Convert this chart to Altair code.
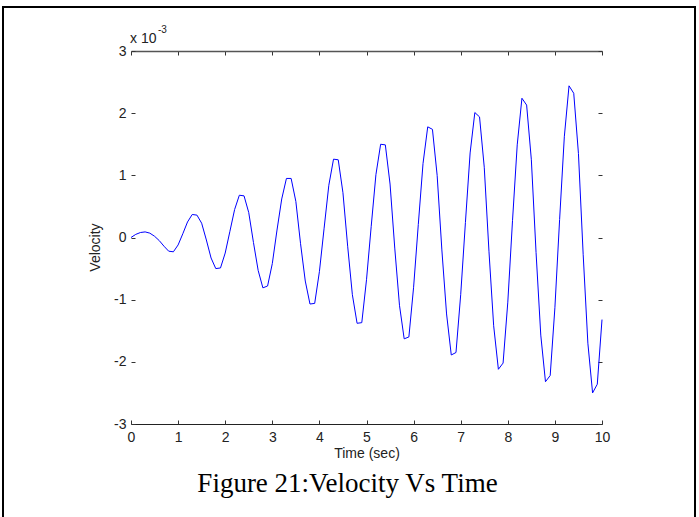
import altair as alt
import pandas as pd

# Time samples (sec)
time_s = [0.0, 0.1, 0.2, 0.3, 0.4, 0.5, 0.6, 0.7, 0.8, 0.9,
          1.0, 1.1, 1.2, 1.3, 1.4, 1.5, 1.6, 1.7, 1.8, 1.9,
          2.0, 2.1, 2.2, 2.3, 2.4, 2.5, 2.6, 2.7, 2.8, 2.9,
          3.0, 3.1, 3.2, 3.3, 3.4, 3.5, 3.6, 3.7, 3.8, 3.9,
          4.0, 4.1, 4.2, 4.3, 4.4, 4.5, 4.6, 4.7, 4.8, 4.9,
          5.0, 5.1, 5.2, 5.3, 5.4, 5.5, 5.6, 5.7, 5.8, 5.9,
          6.0, 6.1, 6.2, 6.3, 6.4, 6.5, 6.6, 6.7, 6.8, 6.9,
          7.0, 7.1, 7.2, 7.3, 7.4, 7.5, 7.6, 7.7, 7.8, 7.9,
          8.0, 8.1, 8.2, 8.3, 8.4, 8.5, 8.6, 8.7, 8.8, 8.9,
          9.0, 9.1, 9.2, 9.3, 9.4, 9.5, 9.6, 9.7, 9.8, 9.9,
          10.0]

# Velocity (x 10^-3)
velocity = [0.00, 0.05, 0.08, 0.09, 0.07, 0.02, -0.05, -0.14, -0.22, -0.23,
            -0.12, 0.06, 0.25, 0.37, 0.36, 0.23, -0.04, -0.33, -0.50, -0.49,
            -0.25, 0.10, 0.45, 0.68, 0.67, 0.40, -0.08, -0.53, -0.81, -0.78,
            -0.42, 0.12, 0.62, 0.95, 0.95, 0.58, -0.10, -0.70, -1.07, -1.06,
            -0.55, 0.15, 0.84, 1.26, 1.25, 0.72, -0.14, -0.92, -1.38, -1.37,
            -0.68, 0.18, 1.01, 1.50, 1.49, 0.86, -0.17, -1.09, -1.63, -1.60,
            -0.80, 0.21, 1.19, 1.78, 1.74, 1.00, -0.20, -1.23, -1.89, -1.85,
            -0.92, 0.24, 1.36, 2.01, 1.94, 1.13, -0.22, -1.42, -2.12, -2.02,
            -1.04, 0.27, 1.49, 2.24, 2.13, 1.25, -0.24, -1.57, -2.32, -2.22,
            -1.13, 0.29, 1.62, 2.44, 2.32, 1.35, -0.27, -1.70, -2.50, -2.36,
            -1.32]

x_ticks = [0, 1, 2, 3, 4, 5, 6, 7, 8, 9, 10]
y_ticks = [-3, -2, -1, 0, 1, 2, 3]

df = pd.DataFrame({"t": time_s, "v": velocity})

W, H = 471, 373
FONT = "Liberation Sans"

xs = alt.Scale(domain=[0, 10], nice=False, zero=False)
ys = alt.Scale(domain=[-3, 3], nice=False, zero=False)

base = alt.Chart(df)

# Main line with labelled axes
main = base.mark_line(color="#0000ff", strokeWidth=1).encode(
    x=alt.X("t:Q", scale=xs, title="Time (sec)",
            axis=alt.Axis(orient="bottom", values=x_ticks, grid=False,
                          ticks=False, domain=True, domainColor="#222222",
                          domainWidth=1, labelFont=FONT, labelFontSize=14,
                          labelColor="#222222", labelPadding=6,
                          labelFlush=False,
                          titleFont=FONT, titleFontSize=14,
                          titleFontWeight="normal", titleColor="#222222",
                          titlePadding=2)),
    y=alt.Y("v:Q", scale=ys, title="Velocity",
            axis=alt.Axis(orient="left", values=y_ticks, grid=False,
                          ticks=False, domain=False, labelFont=FONT,
                          labelFontSize=14, labelColor="#222222",
                          labelPadding=5, labelFlush=False,
                          labelExpr="toString(datum.value)",
                          titleFont=FONT, titleFontSize=14,
                          titleFontWeight="normal", titleColor="#222222",
                          titleX=-36, titleY=196, titleAlign="center",
                          titleBaseline="middle", titleAngle=270)),
)

# inward ticks on top and right
ticks_tr = base.mark_line(strokeOpacity=0).encode(
    x=alt.X("t:Q", scale=xs, title=None,
            axis=alt.Axis(orient="top", offset=-4, values=x_ticks, grid=False,
                          ticks=True, tickSize=4, tickColor="#333333",
                          domain=False, labels=False)),
    y=alt.Y("v:Q", scale=ys, title=None,
            axis=alt.Axis(orient="right", offset=-4, values=y_ticks, grid=False,
                          ticks=True, tickSize=4, tickColor="#333333",
                          domain=False, labels=False)),
)

# inward ticks on bottom and left
ticks_bl = base.mark_line(strokeOpacity=0).encode(
    x=alt.X("t:Q", scale=xs, title=None,
            axis=alt.Axis(orient="bottom", offset=-4, values=x_ticks, grid=False,
                          ticks=True, tickSize=4, tickColor="#333333",
                          domain=False, labels=False)),
    y=alt.Y("v:Q", scale=ys, title=None,
            axis=alt.Axis(orient="left", offset=-4, values=y_ticks, grid=False,
                          ticks=True, tickSize=4, tickColor="#333333",
                          domain=False, labels=False)),
)

# top box line
top_line = base.mark_line(strokeOpacity=0).encode(
    x=alt.X("t:Q", scale=xs, title=None,
            axis=alt.Axis(orient="top", grid=False, ticks=False, labels=False,
                          domain=True, domainColor="#555555", domainWidth=1.5)),
    y=alt.Y("v:Q", scale=ys, axis=None),
)

# exponent label
exp_main = alt.Chart(pd.DataFrame({"s": ["x 10"]})).mark_text(
    font=FONT, fontSize=14, color="#222222", align="left",
    baseline="alphabetic").encode(text="s:N", x=alt.value(-1), y=alt.value(-8))
exp_sup = alt.Chart(pd.DataFrame({"s": ["-3"]})).mark_text(
    font=FONT, fontSize=10, color="#222222", align="left",
    baseline="alphabetic").encode(text="s:N", x=alt.value(27), y=alt.value(-18))

# caption
caption = alt.Chart(pd.DataFrame({"s": ["Figure 21:Velocity Vs Time"]})).mark_text(
    font="Liberation Serif", fontSize=27, color="#000000", align="center",
    baseline="alphabetic").encode(text="s:N", x=alt.value(216.5), y=alt.value(441))

# page frame
frame_left = alt.Chart(pd.DataFrame({"a": [0]})).mark_rule(
    color="#000000", strokeWidth=2).encode(
    x=alt.value(-128), y=alt.value(-45), y2=alt.value(470))
frame_top = alt.Chart(pd.DataFrame({"a": [0]})).mark_rule(
    color="#000000", strokeWidth=2).encode(
    x=alt.value(-129), x2=alt.value(565), y=alt.value(-44))
frame_right = alt.Chart(pd.DataFrame({"a": [0]})).mark_rule(
    color="#000000", strokeWidth=2).encode(
    x=alt.value(564), y=alt.value(-45), y2=alt.value(470))

chart = alt.layer(
    main, ticks_tr, ticks_bl, top_line, exp_main, exp_sup, caption,
    frame_left, frame_top, frame_right
).resolve_axis(x="independent", y="independent").properties(
    width=W, height=H,
    autosize=alt.AutoSizeParams(type="none"),
    padding={"left": 131, "top": 51, "right": 97, "bottom": 93},
    background="white",
).configure_view(stroke=None)

chart.save("out.html", embed_options={"renderer": "svg", "actions": False})
